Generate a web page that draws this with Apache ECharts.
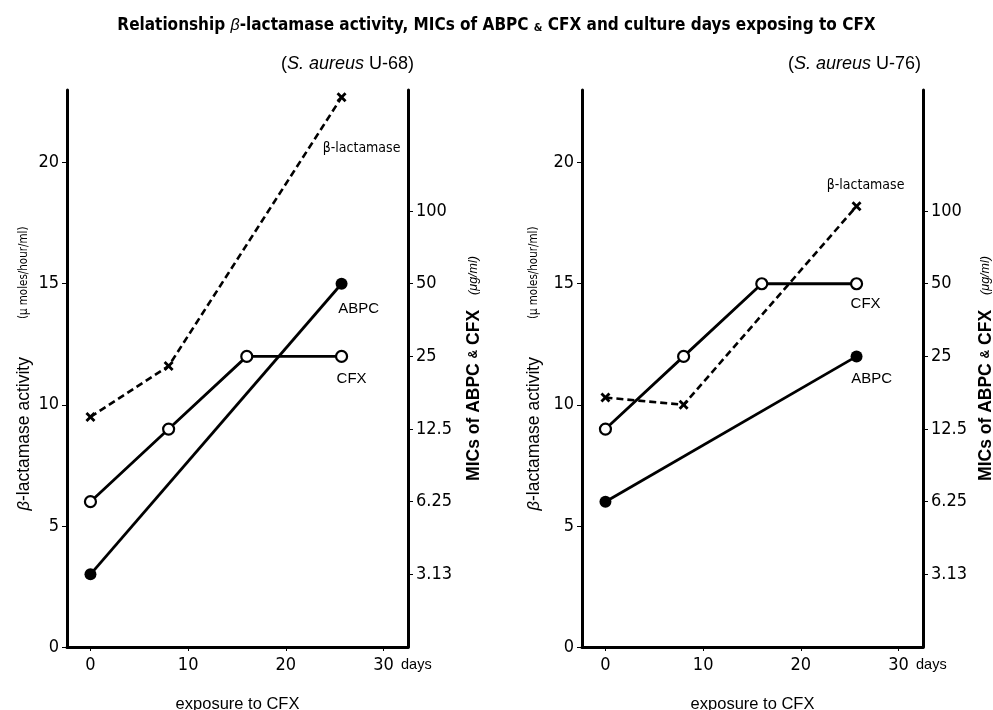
<!DOCTYPE html>
<html>
<head>
<meta charset="utf-8">
<script src="https://cdn.jsdelivr.net/npm/echarts@6/dist/echarts.min.js"></script>
<style>html,body{margin:0;padding:0;background:#fff}#c{width:993px;height:710px}</style>
</head>
<body>
<div id="c"></div>
<script>
// ---- data ----
const dayTicks = [0, 10, 20, 30];
const activityTicks = [0, 5, 10, 15, 20];
const micTicks = [3.125, 6.25, 12.5, 25, 50, 100];
const micTickLabels = ['3.13', '6.25', '12.5', '25', '50', '100'];

// S. aureus U-68
const betaDays68 = [0, 8, 25.7];
const beta68 = [9.5, 11.6, 22.7];
const cfxDays68 = [0, 8, 16, 25.7];
const cfx68 = [6.25, 12.5, 25, 25];
const abpcDays68 = [0, 25.7];
const abpc68 = [3.125, 50];

// S. aureus U-76
const betaDays76 = [0, 8, 25.7];
const beta76 = [10.3, 10.0, 18.2];
const cfxDays76 = [0, 8, 16, 25.7];
const cfx76 = [12.5, 25, 50, 50];
const abpcDays76 = [0, 25.7];
const abpc76 = [6.25, 25];

// ---- styling ----
const FONT = '"Liberation Sans Narrow", "DejaVu Sans Condensed", "Liberation Sans", sans-serif';
const FONT2 = '"Liberation Sans", "DejaVu Sans", sans-serif';
const crossPath = 'path://M2,0 L5,3 L8,0 L10,2 L7,5 L10,8 L8,10 L5,7 L2,10 L0,8 L3,5 L0,2 Z';

function pairs(xs, ys, lastLabel) {
  return xs.map((x, i) => {
    const d = { value: [x, ys[i]] };
    if (i === xs.length - 1 && lastLabel) d.label = lastLabel;
    return d;
  });
}
function lbl(text, off, fam, size) {
  return { show: true, position: 'inside', offset: off, formatter: text,
    color: '#000', fontFamily: fam, fontSize: size };
}

function xAxis(gi) {
  return {
    type: 'value', gridIndex: gi, min: -2.4, max: 32.5,
    name: 'exposure to CFX', nameLocation: 'middle', nameGap: 49,
    nameTextStyle: { fontFamily: FONT2, fontSize: 16.5, color: '#000' },
    axisLine: { show: true, onZero: false, lineStyle: { color: '#000', width: 3 } },
    axisTick: { show: true, customValues: dayTicks, length: 4, lineStyle: { color: '#000', width: 1 } },
    axisLabel: { customValues: dayTicks, color: '#000', fontFamily: FONT, fontSize: 18, margin: 9 },
    splitLine: { show: false }
  };
}
function yLeft(gi, gap) {
  return {
    type: 'value', gridIndex: gi, position: 'left', min: 0, max: 23,
    name: '{i|β}{a|-lactamase activity}{g|}{b|(μ moles/hour/ml)}',
    nameLocation: 'middle', nameGap: gap, nameRotate: 90,
    nameTextStyle: { color: '#000', rich: {
      i: { fontFamily: FONT2, fontSize: 16.5, fontStyle: 'italic', color: '#000' },
      a: { fontFamily: FONT2, fontSize: 17.5, color: '#000' },
      g: { width: 38 },
      b: { fontFamily: FONT, fontSize: 11.5, color: '#000' } } },
    axisLine: { show: true, onZero: false, lineStyle: { color: '#000', width: 3 } },
    axisTick: { show: true, customValues: activityTicks, length: 5, lineStyle: { color: '#000', width: 1 } },
    axisLabel: { customValues: activityTicks, color: '#000', fontFamily: FONT, fontSize: 18, margin: 8 },
    splitLine: { show: false }
  };
}
function yRight(gi, gap) {
  return {
    type: 'log', logBase: 2, gridIndex: gi, position: 'right',
    min: 50 / 32, max: 50 * Math.pow(2, 8 / 3),
    name: '{a|MICs of ABPC }{s|&}{a| CFX}{g|}{b|(μg/ml)}',
    nameLocation: 'middle', nameGap: gap, nameRotate: 90,
    nameTextStyle: { color: '#000', rich: {
      a: { fontFamily: FONT2, fontSize: 17.5, fontWeight: 'bold', color: '#000' },
      s: { fontFamily: FONT2, fontSize: 12, fontWeight: 'bold', color: '#000' },
      g: { width: 15 },
      b: { fontFamily: FONT2, fontSize: 12.5, fontStyle: 'italic', color: '#000' } } },
    axisLine: { show: true, onZero: false, lineStyle: { color: '#000', width: 3 } },
    axisTick: { show: true, customValues: micTicks, length: 5, lineStyle: { color: '#000', width: 1 } },
    axisLabel: { customValues: micTicks, color: '#000', fontFamily: FONT, fontSize: 18, margin: 8,
      formatter: v => {
        let best = 0;
        micTicks.forEach((t, i) => { if (Math.abs(Math.log(t) - Math.log(v)) < Math.abs(Math.log(micTicks[best]) - Math.log(v))) best = i; });
        return micTickLabels[best];
      } },
    splitLine: { show: false }
  };
}

function panelSeries(gi, betaD, beta, cfxD, cfx, abpcD, abpc, offs) {
  const yl = gi * 2, yr = gi * 2 + 1;
  return [
    { type: 'line', xAxisIndex: gi, yAxisIndex: yl, name: 'β-lactamase',
      data: pairs(betaD, beta, lbl('β-lactamase', offs.beta, FONT, 14)),
      lineStyle: { color: '#000', width: 2.6, type: [7, 4] },
      symbol: crossPath, symbolSize: 10, itemStyle: { color: '#000' }, z: 3, silent: true },
    { type: 'line', xAxisIndex: gi, yAxisIndex: yr, name: 'CFX',
      data: pairs(cfxD, cfx, lbl('CFX', offs.cfx, FONT2, 15)),
      lineStyle: { color: '#000', width: 2.8 },
      symbol: 'circle', symbolSize: 11, showAllSymbol: true,
      itemStyle: { color: '#fff', borderColor: '#000', borderWidth: 2.2 }, z: 4, silent: true },
    { type: 'line', xAxisIndex: gi, yAxisIndex: yr, name: 'ABPC',
      data: pairs(abpcD, abpc, lbl('ABPC', offs.abpc, FONT2, 15)),
      lineStyle: { color: '#000', width: 2.8 },
      symbol: 'circle', symbolSize: 12, itemStyle: { color: '#000', borderColor: '#000', borderWidth: 0 }, z: 5, silent: true }
  ];
}

const subRich = { t: { fontFamily: FONT2, fontSize: 18, fontWeight: 'normal', color: '#000' },
                  i: { fontFamily: FONT2, fontSize: 18, fontWeight: 'normal', fontStyle: 'italic', color: '#000' } };

const chart = echarts.init(document.getElementById('c'), null, { renderer: 'canvas' });
chart.setOption({
  backgroundColor: '#fff',
  animation: false,
  title: [
    { text: '{t|Relationship }{i|β}{t|-lactamase activity, MICs of ABPC }{s|&}{t| CFX and culture days exposing to CFX}',
      left: 'center', top: 12,
      textStyle: { rich: {
        t: { fontFamily: FONT, fontSize: 17, fontWeight: 'bold', color: '#000' },
        i: { fontFamily: FONT2, fontSize: 16, fontWeight: 'normal', fontStyle: 'italic', color: '#000' },
        s: { fontFamily: FONT, fontSize: 11, fontWeight: 'bold', color: '#000', padding: [6, 0, 0, 0] } } } },
    { text: '{t|(}{i|S. aureus}{t| U-68)}', left: 276, top: 50, textStyle: { rich: subRich } },
    { text: '{t|(}{i|S. aureus}{t| U-76)}', left: 783, top: 50, textStyle: { rich: subRich } }
  ],
  grid: [
    { left: 67, right: 585, top: 90, bottom: 63, outerBoundsMode: 'none', containLabel: false },
    { left: 582, right: 70, top: 90, bottom: 63, outerBoundsMode: 'none', containLabel: false }
  ],
  xAxis: [xAxis(0), xAxis(1)],
  yAxis: [yLeft(0, 34), yRight(0, 57), yLeft(1, 39), yRight(1, 54)],
  series: [
    ...panelSeries(0, betaDays68, beta68, cfxDays68, cfx68, abpcDays68, abpc68,
      { beta: [20, 51], cfx: [10, 22], abpc: [17, 25] }),
    ...panelSeries(1, betaDays76, beta76, cfxDays76, cfx76, abpcDays76, abpc76,
      { beta: [9, -21], cfx: [9, 20], abpc: [15, 22] })
  ],
  graphic: [
    { type: 'text', left: 401, top: 657, style: { text: 'days', fontFamily: FONT2, fontSize: 14.5, fill: '#000' } },
    { type: 'text', left: 916, top: 657, style: { text: 'days', fontFamily: FONT2, fontSize: 14.5, fill: '#000' } }
  ]
});
</script>
</body>
</html>
